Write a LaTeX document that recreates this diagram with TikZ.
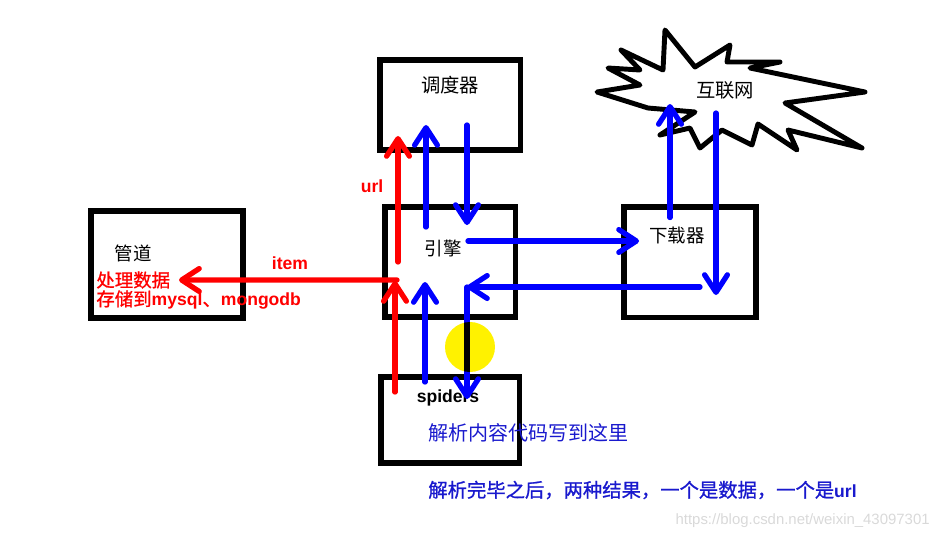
\documentclass[tikz,border=0pt]{standalone}
\usepackage{fontspec}
\setmainfont{Liberation Sans}
\newfontfamily\cjk{Noto Sans CJK SC}
\newfontfamily\cjkb[FakeBold=1]{Noto Sans CJK SC}
\usetikzlibrary{arrows.meta, calc, positioning}
\definecolor{penred}{RGB}{255,0,0}
\definecolor{penblue}{RGB}{0,0,255}
\definecolor{inkblue}{RGB}{25,25,205}

\begin{document}
\begin{tikzpicture}[x=0.02cm, y=-0.02cm,
  box/.style={draw, line width=3.4pt, inner sep=0},
  cjklabel/.style={inner sep=0, font=\cjk\fontsize{11}{13}\selectfont},
  latinlabel/.style={inner sep=0, font=\bfseries\fontsize{10}{12}\selectfont},
  redarr/.style={penred, line width=3pt, line cap=round, -{Straight Barb[length=10pt, width=13pt, round]}},
  bluearr/.style={penblue, line width=3pt, line cap=round, -{Straight Barb[length=10pt, width=13pt, round]}}]
\useasboundingbox (0,0) rectangle (941,539);

% Boxes
\node[box, minimum width=2.82cm, minimum height=1.8cm] (sched) at (450,105) {};
\node[box, minimum width=2.62cm, minimum height=2.2cm] (engine) at (450,262) {};
\node[box, minimum width=2.64cm, minimum height=2.22cm] (downl) at (690,262) {};
\node[box, minimum width=3.04cm, minimum height=2.14cm] (pipe) at (167,264.5) {};
\node[box, minimum width=2.78cm, minimum height=1.72cm] (spiders) at (450,420) {};

% Internet (jagged cloud)
\draw[line width=2.8pt, line join=round, fill=white]
  (597,92) -- (640,85) -- (608,68) -- (640,70) -- (621,50) -- (663,70)
  -- (665,30) -- (695,67) -- (730,45) -- (727,62) -- (780,62) -- (750,68)
  -- (865,92) -- (785,103) -- (862,148) -- (788,130) -- (797,150) -- (758,124)
  -- (752,145) -- (722,130) -- (700,148) -- (690,128) -- (660,135) -- (695,112)
  -- (648,108) -- cycle;
\node[cjklabel] (net) at (725,90) {互联网};

% Labels
\node[cjklabel] (schedtxt) at (450,85) {调度器};
\node[cjklabel, font=\cjk\fontsize{10.5}{13}\selectfont] (enginetxt) at (443,248) {引擎};
\node[cjklabel, font=\cjk\fontsize{10.5}{13}\selectfont] (downltxt) at (677,235) {下载器};
\node[cjklabel, font=\cjk\fontsize{10.5}{13}\selectfont] (pipetxt) at (133,253) {管道};
\node[latinlabel] (spiderstxt) at (448,398) {spiders};
\node[inner sep=0, anchor=west, penred, font=\fontsize{10.5}{13}\selectfont] (pipejob1) at (96,280) {\cjkb 处理数据};
\node[inner sep=0, anchor=west, penred, font=\fontsize{10.5}{13}\selectfont] (pipejob2) at (96,300)
  {{\cjkb 存储到}{\bfseries\fontsize{10}{12}\selectfont mysql}{\cjkb 、}{\bfseries\fontsize{10}{12}\selectfont mongodb}};
\node[latinlabel, penred] (itemtxt) at (290,263) {item};
\node[latinlabel, penred] (urltxt) at (372,186) {url};
\node[inner sep=0, anchor=west, inkblue, font=\cjk\fontsize{11.4}{13}\selectfont] (parsetxt) at (428,433) {解析内容代码写到这里};
\node[inner sep=0, anchor=west, inkblue, font=\fontsize{11}{13}\selectfont] (resulttxt) at (428,490)
  {{\cjkb 解析完毕之后，两种结果，一个是数据，一个是}{\bfseries\fontsize{10}{12}\selectfont url}};
\node[inner sep=0, anchor=east, gray!30, font=\fontsize{8.5}{10}\selectfont] (mark) at (930,521) {https://blog.csdn.net/weixin\_43097301};

% Red connectors
\draw[redarr] ($(spiders.north)+(-55,18)$) -- ($(engine.south)+(-55,-39)$);
\draw[redarr] ($(engine.center)+(-53,18)$) -- ($(pipe.center)+(12,15.5)$);
\draw[redarr] ($(engine.center)+(-52,0)$) -- ($(sched.south)+(-52,-17)$);

% Blue connectors
\draw[bluearr] ($(engine.north)+(-24,23)$) -- ($(sched.south)+(-24,-28)$);
\draw[bluearr] ($(sched.south)+(17,-28)$) -- ($(engine.north)+(17,21)$);
\draw[bluearr] ($(engine.center)+(18,-21)$) -- ($(downl.west)+(18,-21)$);
\draw[bluearr] ($(downl.north)+(-20,14)$) -- ($(net.center)+(-55,14)$);
\draw[bluearr] ($(net.center)+(-9,23)$) -- ($(downl.center)+(26,33)$);
\draw[bluearr] ($(downl.center)+(10,25)$) -- ($(engine.center)+(17,25)$) coordinate (turn);
\draw[bluearr] (turn) -- ($(spiders.north)+(17,25)$);
\draw[bluearr] ($(spiders.north)+(-25,8)$) -- ($(engine.center)+(-25,20)$);

% Pointer highlight
\fill[yellow, blend mode=multiply] (470,347) circle (0.5cm);
\end{tikzpicture}
\end{document}
